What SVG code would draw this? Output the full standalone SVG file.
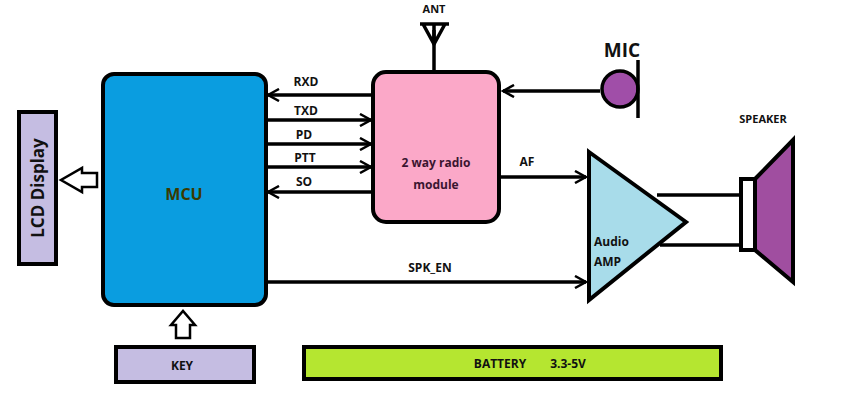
<svg xmlns="http://www.w3.org/2000/svg" width="868" height="411" viewBox="0 0 868 411">
<defs>
<marker id="ar" markerWidth="14" markerHeight="14" refX="12" refY="7" orient="auto" markerUnits="userSpaceOnUse"><path d="M1,1 L12,7 L1,13" fill="none" stroke="#000" stroke-width="2.5"/></marker>
<style>
.t{font-family:"Open Sans","Liberation Sans",sans-serif;font-weight:bold;fill:#111;font-size:12px}
.b{stroke:#000;stroke-width:4}
.l{stroke:#000;stroke-width:3.5;fill:none}
</style>
</defs>
<rect width="868" height="411" fill="#fff"/>
<g id="connectors">
<line class="l" x1="373" y1="95" x2="268" y2="95" marker-end="url(#ar)"/>
<line class="l" x1="266" y1="120" x2="371" y2="120" marker-end="url(#ar)"/>
<line class="l" x1="266" y1="144" x2="371" y2="144" marker-end="url(#ar)"/>
<line class="l" x1="266" y1="167" x2="371" y2="167" marker-end="url(#ar)"/>
<line class="l" x1="373" y1="192" x2="268" y2="192" marker-end="url(#ar)"/>
<line class="l" x1="600" y1="91" x2="503" y2="91" marker-end="url(#ar)"/>
<line class="l" x1="499" y1="177" x2="586" y2="177" marker-end="url(#ar)"/>
<line class="l" x1="266" y1="282" x2="586" y2="282" marker-end="url(#ar)"/>
<line class="l" x1="657" y1="195" x2="742" y2="195"/>
<line class="l" x1="660" y1="245" x2="742" y2="245"/>
<line class="l" x1="434" y1="72" x2="434" y2="30"/>
<path d="M97,173 L82,173 L82,168 L61,180 L82,192 L82,187 L97,187 Z" fill="#fff" stroke="#000" stroke-width="2.5"/>
<path d="M176,338 L176,325 L171,325 L183,311 L195,325 L190,325 L190,338 Z" fill="#fff" stroke="#000" stroke-width="2.5"/>
<text class="t" x="306" y="86" text-anchor="middle">RXD</text>
<text class="t" x="306" y="115" text-anchor="middle">TXD</text>
<text class="t" x="304" y="139" text-anchor="middle">PD</text>
<text class="t" x="305" y="162" text-anchor="middle">PTT</text>
<text class="t" x="304" y="186" text-anchor="middle">SO</text>
<text class="t" x="527" y="166" text-anchor="middle">AF</text>
<text class="t" x="430" y="272" text-anchor="middle">SPK_EN</text>
</g>
<g id="mcu"><rect x="103" y="74" width="163" height="231" rx="11" fill="#0a9de0" class="b"/><text class="t" x="184" y="200" text-anchor="middle" style="font-size:16px;fill:#3a3a00">MCU</text></g>
<g id="lcd"><rect x="19" y="112" width="37" height="152" fill="#c5bde2" class="b"/><text class="t" transform="translate(44,188) rotate(-90)" text-anchor="middle" style="font-size:17px">LCD Display</text></g>
<g id="key"><rect x="116" y="347" width="138" height="35" fill="#c5bde2" class="b"/><text class="t" x="182" y="370" text-anchor="middle">KEY</text></g>
<g id="radio"><rect x="373" y="72" width="126" height="150" rx="13" fill="#fba8c8" class="b"/><text class="t" x="436" y="167" text-anchor="middle" style="fill:#3a1530">2 way radio</text><text class="t" x="436" y="189" text-anchor="middle" style="fill:#3a1530">module</text></g>
<g id="ant"><path d="M420,24 L449,24 M423,24 L434,44 L445,24 M434,24 L434,44" fill="none" stroke="#000" stroke-width="3.5"/><text class="t" x="434" y="13" text-anchor="middle" style="font-size:11px">ANT</text></g>
<g id="mic"><circle cx="620" cy="89" r="18" fill="#a04ea8" stroke="#000" stroke-width="3.5"/><line x1="638" y1="60" x2="638" y2="118" class="l"/><text class="t" x="622" y="57" text-anchor="middle" style="font-size:19px">MIC</text></g>
<g id="amp"><path d="M589,152 L686,222 L589,300 Z" fill="#a8dcea" stroke="#000" stroke-width="4" stroke-linejoin="miter"/><text class="t" x="594" y="246">Audio</text><text class="t" x="594" y="266">AMP</text></g>
<g id="speaker"><rect x="741" y="179" width="14" height="71" fill="#fff" class="b"/><path d="M755,179 L793,140 L793,282 L755,250 Z" fill="#a04ea0" stroke="#000" stroke-width="4"/><text class="t" x="763" y="123" text-anchor="middle" style="font-size:11px">SPEAKER</text></g>
<g id="battery"><rect x="304" y="347" width="417" height="32" fill="#b5e630" class="b"/><text class="t" x="500" y="368" text-anchor="middle">BATTERY</text><text class="t" x="568" y="368" text-anchor="middle">3.3-5V</text></g>
</svg>
